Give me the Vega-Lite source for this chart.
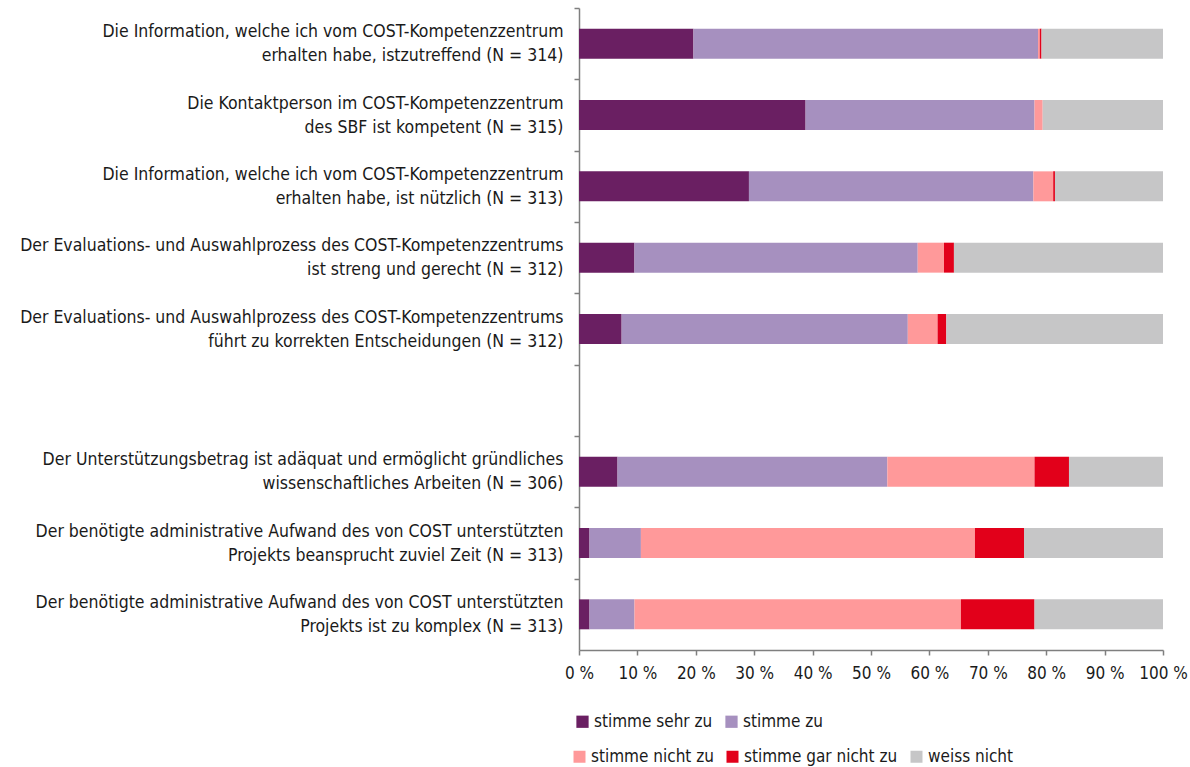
{
  "$schema": "https://vega.github.io/schema/vega-lite/v6.json",
  "width": 584,
  "height": 642,
  "autosize": {"type": "none"},
  "padding": {"left": 579, "top": 8, "right": 27, "bottom": 117},
  "background": "white",
  "config": {
    "font": "DejaVu Sans Condensed, sans-serif",
    "view": {"stroke": null},
    "axis": {"labelColor": "#1a1a1a", "domainColor": "#7f7f7f", "tickColor": "#7f7f7f", "domainWidth": 1.5, "tickWidth": 1.5},
    "legend": {"labelColor": "#1a1a1a"}
  },
  "data": {"values": [
    {"q": "Die Information, welche ich vom COST-Kompetenzzentrum|erhalten habe, istzutreffend (N = 314)", "resp": "stimme sehr zu", "k": 1, "pct": 19.6},
    {"q": "Die Information, welche ich vom COST-Kompetenzzentrum|erhalten habe, istzutreffend (N = 314)", "resp": "stimme zu", "k": 2, "pct": 59.0},
    {"q": "Die Information, welche ich vom COST-Kompetenzzentrum|erhalten habe, istzutreffend (N = 314)", "resp": "stimme nicht zu", "k": 3, "pct": 0.3},
    {"q": "Die Information, welche ich vom COST-Kompetenzzentrum|erhalten habe, istzutreffend (N = 314)", "resp": "stimme gar nicht zu", "k": 4, "pct": 0.3},
    {"q": "Die Information, welche ich vom COST-Kompetenzzentrum|erhalten habe, istzutreffend (N = 314)", "resp": "weiss nicht", "k": 5, "pct": 20.8},
    {"q": "Die Kontaktperson im COST-Kompetenzzentrum|des SBF ist kompetent (N = 315)\u00a0", "resp": "stimme sehr zu", "k": 1, "pct": 38.8},
    {"q": "Die Kontaktperson im COST-Kompetenzzentrum|des SBF ist kompetent (N = 315)\u00a0", "resp": "stimme zu", "k": 2, "pct": 39.2},
    {"q": "Die Kontaktperson im COST-Kompetenzzentrum|des SBF ist kompetent (N = 315)\u00a0", "resp": "stimme nicht zu", "k": 3, "pct": 1.4},
    {"q": "Die Kontaktperson im COST-Kompetenzzentrum|des SBF ist kompetent (N = 315)\u00a0", "resp": "stimme gar nicht zu", "k": 4, "pct": 0.0},
    {"q": "Die Kontaktperson im COST-Kompetenzzentrum|des SBF ist kompetent (N = 315)\u00a0", "resp": "weiss nicht", "k": 5, "pct": 20.6},
    {"q": "Die Information, welche ich vom COST-Kompetenzzentrum|erhalten habe, ist nützlich (N = 313)", "resp": "stimme sehr zu", "k": 1, "pct": 29.1},
    {"q": "Die Information, welche ich vom COST-Kompetenzzentrum|erhalten habe, ist nützlich (N = 313)", "resp": "stimme zu", "k": 2, "pct": 48.7},
    {"q": "Die Information, welche ich vom COST-Kompetenzzentrum|erhalten habe, ist nützlich (N = 313)", "resp": "stimme nicht zu", "k": 3, "pct": 3.4},
    {"q": "Die Information, welche ich vom COST-Kompetenzzentrum|erhalten habe, ist nützlich (N = 313)", "resp": "stimme gar nicht zu", "k": 4, "pct": 0.3},
    {"q": "Die Information, welche ich vom COST-Kompetenzzentrum|erhalten habe, ist nützlich (N = 313)", "resp": "weiss nicht", "k": 5, "pct": 18.5},
    {"q": "Der Evaluations- und Auswahlprozess des COST-Kompetenzzentrums|ist streng und gerecht (N = 312)", "resp": "stimme sehr zu", "k": 1, "pct": 9.5},
    {"q": "Der Evaluations- und Auswahlprozess des COST-Kompetenzzentrums|ist streng und gerecht (N = 312)", "resp": "stimme zu", "k": 2, "pct": 48.5},
    {"q": "Der Evaluations- und Auswahlprozess des COST-Kompetenzzentrums|ist streng und gerecht (N = 312)", "resp": "stimme nicht zu", "k": 3, "pct": 4.5},
    {"q": "Der Evaluations- und Auswahlprozess des COST-Kompetenzzentrums|ist streng und gerecht (N = 312)", "resp": "stimme gar nicht zu", "k": 4, "pct": 1.7},
    {"q": "Der Evaluations- und Auswahlprozess des COST-Kompetenzzentrums|ist streng und gerecht (N = 312)", "resp": "weiss nicht", "k": 5, "pct": 35.8},
    {"q": "Der Evaluations- und Auswahlprozess des COST-Kompetenzzentrums|führt zu korrekten Entscheidungen (N = 312)", "resp": "stimme sehr zu", "k": 1, "pct": 7.3},
    {"q": "Der Evaluations- und Auswahlprozess des COST-Kompetenzzentrums|führt zu korrekten Entscheidungen (N = 312)", "resp": "stimme zu", "k": 2, "pct": 49.0},
    {"q": "Der Evaluations- und Auswahlprozess des COST-Kompetenzzentrums|führt zu korrekten Entscheidungen (N = 312)", "resp": "stimme nicht zu", "k": 3, "pct": 5.1},
    {"q": "Der Evaluations- und Auswahlprozess des COST-Kompetenzzentrums|führt zu korrekten Entscheidungen (N = 312)", "resp": "stimme gar nicht zu", "k": 4, "pct": 1.5},
    {"q": "Der Evaluations- und Auswahlprozess des COST-Kompetenzzentrums|führt zu korrekten Entscheidungen (N = 312)", "resp": "weiss nicht", "k": 5, "pct": 37.1},
    {"q": "Der Unterstützungsbetrag ist adäquat und ermöglicht gründliches|wissenschaftliches Arbeiten (N = 306)", "resp": "stimme sehr zu", "k": 1, "pct": 6.6},
    {"q": "Der Unterstützungsbetrag ist adäquat und ermöglicht gründliches|wissenschaftliches Arbeiten (N = 306)", "resp": "stimme zu", "k": 2, "pct": 46.2},
    {"q": "Der Unterstützungsbetrag ist adäquat und ermöglicht gründliches|wissenschaftliches Arbeiten (N = 306)", "resp": "stimme nicht zu", "k": 3, "pct": 25.2},
    {"q": "Der Unterstützungsbetrag ist adäquat und ermöglicht gründliches|wissenschaftliches Arbeiten (N = 306)", "resp": "stimme gar nicht zu", "k": 4, "pct": 5.9},
    {"q": "Der Unterstützungsbetrag ist adäquat und ermöglicht gründliches|wissenschaftliches Arbeiten (N = 306)", "resp": "weiss nicht", "k": 5, "pct": 16.1},
    {"q": "Der benötigte administrative Aufwand des von COST unterstützten|Projekts beansprucht zuviel Zeit (N = 313)", "resp": "stimme sehr zu", "k": 1, "pct": 1.8},
    {"q": "Der benötigte administrative Aufwand des von COST unterstützten|Projekts beansprucht zuviel Zeit (N = 313)", "resp": "stimme zu", "k": 2, "pct": 8.8},
    {"q": "Der benötigte administrative Aufwand des von COST unterstützten|Projekts beansprucht zuviel Zeit (N = 313)", "resp": "stimme nicht zu", "k": 3, "pct": 57.2},
    {"q": "Der benötigte administrative Aufwand des von COST unterstützten|Projekts beansprucht zuviel Zeit (N = 313)", "resp": "stimme gar nicht zu", "k": 4, "pct": 8.4},
    {"q": "Der benötigte administrative Aufwand des von COST unterstützten|Projekts beansprucht zuviel Zeit (N = 313)", "resp": "weiss nicht", "k": 5, "pct": 23.8},
    {"q": "Der benötigte administrative Aufwand des von COST unterstützten|Projekts ist zu komplex (N = 313)", "resp": "stimme sehr zu", "k": 1, "pct": 1.8},
    {"q": "Der benötigte administrative Aufwand des von COST unterstützten|Projekts ist zu komplex (N = 313)", "resp": "stimme zu", "k": 2, "pct": 7.7},
    {"q": "Der benötigte administrative Aufwand des von COST unterstützten|Projekts ist zu komplex (N = 313)", "resp": "stimme nicht zu", "k": 3, "pct": 55.9},
    {"q": "Der benötigte administrative Aufwand des von COST unterstützten|Projekts ist zu komplex (N = 313)", "resp": "stimme gar nicht zu", "k": 4, "pct": 12.6},
    {"q": "Der benötigte administrative Aufwand des von COST unterstützten|Projekts ist zu komplex (N = 313)", "resp": "weiss nicht", "k": 5, "pct": 22.0}
  ]},
  "mark": {"type": "bar", "strokeWidth": 0},
  "encoding": {
    "y": {
      "field": "q", "type": "nominal",
      "scale": {
        "domain": [
          "Die Information, welche ich vom COST-Kompetenzzentrum|erhalten habe, istzutreffend (N = 314)",
          "Die Kontaktperson im COST-Kompetenzzentrum|des SBF ist kompetent (N = 315)\u00a0",
          "Die Information, welche ich vom COST-Kompetenzzentrum|erhalten habe, ist nützlich (N = 313)",
          "Der Evaluations- und Auswahlprozess des COST-Kompetenzzentrums|ist streng und gerecht (N = 312)",
          "Der Evaluations- und Auswahlprozess des COST-Kompetenzzentrums|führt zu korrekten Entscheidungen (N = 312)",
          " ",
          "Der Unterstützungsbetrag ist adäquat und ermöglicht gründliches|wissenschaftliches Arbeiten (N = 306)",
          "Der benötigte administrative Aufwand des von COST unterstützten|Projekts beansprucht zuviel Zeit (N = 313)",
          "Der benötigte administrative Aufwand des von COST unterstützten|Projekts ist zu komplex (N = 313)"
        ],
        "paddingInner": 0.58, "paddingOuter": 0.29
      },
      "axis": {
        "title": null, "tickSize": 5, "tickOffset": -35.67, "labelPadding": 11,
        "labelFontSize": 17.5, "labelLineHeight": 24, "labelLimit": 0, "labelOffset": 23.67,
        "labelExpr": "split(datum.label, '|')", "grid": false
      }
    },
    "x": {
      "field": "pct", "type": "quantitative", "stack": "zero",
      "scale": {"domain": [0, 100], "nice": false},
      "axis": {
        "title": null, "values": [0, 10, 20, 30, 40, 50, 60, 70, 80, 90, 100],
        "labelExpr": "datum.value + ' %'", "grid": false, "tickSize": 5,
        "labelPadding": 10, "labelFontSize": 17, "labelOverlap": false, "labelFlush": false
      }
    },
    "order": {"field": "k", "type": "quantitative"},
    "fill": {
      "field": "resp", "type": "nominal",
      "scale": {
        "domain": ["stimme sehr zu", "stimme zu", "stimme nicht zu", "stimme gar nicht zu", "weiss nicht"],
        "range": ["#6a1f62", "#a690bf", "#ff999a", "#e2001a", "#c6c6c7"]
      },
      "legend": {
        "values": ["stimme sehr zu", "stimme zu"], "title": null,
        "orient": "none", "legendX": -5, "legendY": 705, "direction": "horizontal",
        "symbolType": "square", "symbolSize": 150, "symbolStrokeWidth": 0,
        "labelFontSize": 17, "labelOffset": 3, "columnPadding": 10, "padding": 0
      }
    },
    "stroke": {
      "field": "resp", "type": "nominal",
      "scale": {
        "domain": ["stimme nicht zu", "stimme gar nicht zu", "weiss nicht"],
        "range": ["#ff999a", "#e2001a", "#c6c6c7"]
      },
      "legend": {
        "title": null,
        "orient": "none", "legendX": -8, "legendY": 740, "direction": "horizontal",
        "symbolType": "square", "symbolSize": 36, "symbolStrokeWidth": 6,
        "symbolFillColor": "transparent",
        "labelFontSize": 17, "labelOffset": 3, "columnPadding": 3, "padding": 0
      }
    }
  }
}
